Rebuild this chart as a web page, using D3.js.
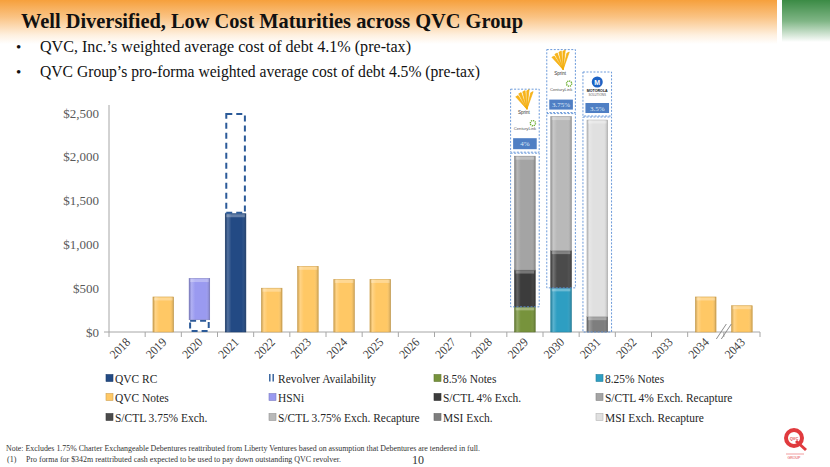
<!DOCTYPE html>
<html><head><meta charset="utf-8">
<script src="https://cdn.jsdelivr.net/npm/d3@7"></script>
<style>
body{margin:0;background:#fff;}
svg{display:block;font-family:"Liberation Serif","Times New Roman",serif;}
</style>
</head><body>
<svg id="c" width="830" height="467"></svg>
<script>
// ---------- DATA ----------
const categories = ["2018","2019","2020","2021","2022","2023","2024","2025","2026","2027","2028","2029","2030","2031","2032","2033","2034","2043"];
const qvcRC      = [0,0,0,1350,0,0,0,0,0,0,0,0,0,0,0,0,0,0];
const revolver   = [0,0,140,1150,0,0,0,0,0,0,0,0,0,0,0,0,0,0];
const notes85    = [0,0,0,0,0,0,0,0,0,0,0,287,0,0,0,0,0,0];
const notes825   = [0,0,0,0,0,0,0,0,0,0,0,0,504,0,0,0,0,0];
const qvcNotes   = [0,400,0,0,500,750,600,600,0,0,0,0,0,0,0,0,400,300];
const hsni       = [0,0,470,0,0,0,0,0,0,0,0,0,0,0,0,0,0,0];
const sctl4      = [0,0,0,0,0,0,0,0,0,0,0,420,0,0,0,0,0,0];
const sctl4R     = [0,0,0,0,0,0,0,0,0,0,0,1300,0,0,0,0,0,0];
const sctl375    = [0,0,0,0,0,0,0,0,0,0,0,0,425,0,0,0,0,0];
const sctl375R   = [0,0,0,0,0,0,0,0,0,0,0,0,1530,0,0,0,0,0];
const msiExch    = [0,0,0,0,0,0,0,0,0,0,0,0,0,175,0,0,0,0];
const msiR       = [0,0,0,0,0,0,0,0,0,0,0,0,0,2245,0,0,0,0];
const seriesNames = ["QVC RC","Revolver Availability","8.5% Notes","8.25% Notes","QVC Notes","HSNi","S/CTL 4% Exch.","S/CTL 4% Exch. Recapture","S/CTL 3.75% Exch.","S/CTL 3.75% Exch. Recapture","MSI Exch.","MSI Exch. Recapture"];
const seriesValues = [qvcRC,revolver,notes85,notes825,qvcNotes,hsni,sctl4,sctl4R,sctl375,sctl375R,msiExch,msiR];
const seriesColors = ["#234A84","none","#77933C","#2E9EC2","#FFC865","#9A9AF0","#3C3C3C","#A4A4A4","#4B4B4B","#B9B9B9","#7E7E7E","#E0E0E0"];
const yTicks = [0,500,1000,1500,2000,2500];
const exchCats = ["2029","2030","2031"];
const exchRates = ["4%","3.75%","3.5%"];
const exchIssuer = ["sprint","sprint","msi"];
const title = "Well Diversified, Low Cost Maturities across QVC Group";
const bullets = ["QVC, Inc.\u2019s weighted average cost of debt 4.1% (pre-tax)","QVC Group\u2019s pro-forma weighted average cost of debt 4.5% (pre-tax)"];
const notes = ["Note: Excludes 1.75% Charter Exchangeable Debentures reattributed from Liberty Ventures based on assumption that Debentures are tendered in full.","Pro forma for $342m reattributed cash expected to be used to pay down outstanding QVC revolver."];

// ---------- SETUP ----------
const svg = d3.select("#c");
const defs = svg.append("defs");
function condense(sel, f){ const w = sel.node().getComputedTextLength(); sel.attr("textLength", w*f).attr("lengthAdjust","spacingAndGlyphs"); return sel; }

// header gradients
const og = defs.append("linearGradient").attr("id","hdrO").attr("x1",0).attr("y1",0).attr("x2",0).attr("y2",1);
og.append("stop").attr("offset","0").attr("stop-color","#F6A03C");
og.append("stop").attr("offset","0.4").attr("stop-color","#FAC486");
og.append("stop").attr("offset","0.8").attr("stop-color","#FEF0E0");
og.append("stop").attr("offset","1").attr("stop-color","#FFFFFF");
const gg = defs.append("linearGradient").attr("id","hdrG").attr("x1",0).attr("y1",0).attr("x2",0).attr("y2",1);
gg.append("stop").attr("offset","0").attr("stop-color","#3B8B45");
gg.append("stop").attr("offset","0.5").attr("stop-color","#7FB585");
gg.append("stop").attr("offset","1").attr("stop-color","#FFFFFF");
svg.append("rect").attr("x",0).attr("y",0).attr("width",777).attr("height",44).attr("fill","url(#hdrO)");
svg.append("rect").attr("x",782).attr("y",0).attr("width",48).attr("height",42).attr("fill","url(#hdrG)");

// bevel shading overlay
const sh = defs.append("linearGradient").attr("id","shade").attr("x1",0).attr("y1",0).attr("x2",1).attr("y2",0);
sh.append("stop").attr("offset","0").attr("stop-color","#000").attr("stop-opacity",0.18);
sh.append("stop").attr("offset","0.12").attr("stop-color","#fff").attr("stop-opacity",0.22);
sh.append("stop").attr("offset","0.3").attr("stop-color","#fff").attr("stop-opacity",0);
sh.append("stop").attr("offset","0.8").attr("stop-color","#fff").attr("stop-opacity",0);
sh.append("stop").attr("offset","1").attr("stop-color","#000").attr("stop-opacity",0.2);

// title & bullets
svg.append("text").attr("x",21).attr("y",28).attr("font-size",21).attr("font-weight","bold").attr("fill","#111")
  .attr("textLength",502).attr("lengthAdjust","spacingAndGlyphs").text(title);
const bl = [[52,371],[77,440]];
bullets.forEach((b,i)=>{
  svg.append("text").attr("x",16).attr("y",bl[i][0]).attr("font-size",15).attr("fill","#111").text("\u2022");
  svg.append("text").attr("x",40).attr("y",bl[i][0]).attr("font-size",16.5).attr("fill","#111")
    .attr("textLength",bl[i][1]).attr("lengthAdjust","spacingAndGlyphs").text(b);
});

// ---------- SCALES ----------
const x = d3.scaleBand().domain(categories).range([109,760]).paddingInner(0.43).paddingOuter(0.215);
const y = d3.scaleLinear().domain([0,2500]).range([332,113]);
const step = x.step();
const bw = x.bandwidth();

// axes
const g = svg.append("g");
g.append("line").attr("x1",109).attr("x2",109).attr("y1",y(0)).attr("y2",105).attr("stroke","#A6A6A6");
g.append("line").attr("x1",104).attr("x2",760).attr("y1",y(0)).attr("y2",y(0)).attr("stroke","#A6A6A6");
d3.range(categories.length+1).forEach(i=>{
  const xx = 109 + i*step;
  g.append("line").attr("x1",xx).attr("x2",xx).attr("y1",y(0)).attr("y2",y(0)+5).attr("stroke","#A6A6A6");
});
yTicks.forEach(t=>{
  g.append("text").attr("x",99).attr("y",y(t)+4.5).attr("text-anchor","end").attr("font-size",13).attr("fill","#595959")
   .text("$"+d3.format(",")(t));
});
categories.forEach(c=>{
  const cx = x(c)+bw/2+4, cy = y(0)+11;
  condense(g.append("text").attr("transform",`translate(${cx},${cy}) rotate(-45)`).attr("text-anchor","end")
   .attr("font-size",12.5).attr("fill","#404040").text(c), 0.92);
});

// ---------- BARS ----------
const rows = categories.map((c,i)=>{ const r={cat:c}; seriesNames.forEach((s,j)=>r[s]=seriesValues[j][i]); return r; });
const stacked = d3.stack().keys(seriesNames)(rows);
stacked.forEach((layer,j)=>{
  layer.forEach(d=>{
    if (d[1]-d[0] <= 0) return;
    const xx = x(d.data.cat), y1 = y(d[1]), h = y(d[0]) - y(d[1]);
    if (seriesNames[j]==="Revolver Availability") {
      g.append("rect").attr("x",xx+1).attr("y",y1+1).attr("width",bw-2).attr("height",h-2)
       .attr("fill","none").attr("stroke","#2B5A98").attr("stroke-width",2).attr("stroke-dasharray","6,4");
      return;
    }
    const col = seriesColors[j];
    g.append("rect").attr("x",xx).attr("y",y1).attr("width",bw).attr("height",h)
     .attr("fill",col).attr("stroke",d3.color(col).darker(0.5)).attr("stroke-width",0.6);
    g.append("rect").attr("x",xx).attr("y",y1).attr("width",bw).attr("height",h).attr("fill","url(#shade)");
    g.append("rect").attr("x",xx+1).attr("y",y1+0.5).attr("width",bw-2).attr("height",Math.min(3,h-1))
     .attr("fill","#fff").attr("opacity",0.3);
  });
});

// break mark between 2034 and 2043
const bx = 109 + 17*step;
[-2.5,2.5].forEach(o=>{
  g.append("line").attr("x1",bx+o-5).attr("y1",y(0)+7).attr("x2",bx+o+5).attr("y2",y(0)-8)
   .attr("stroke","#808080").attr("stroke-width",0.9);
});

// ---------- EXCHANGEABLE ANNOTATIONS ----------
const logoH = {sprint:63, msi:44};
exchCats.forEach((c,k)=>{
  const i = categories.indexOf(c);
  let lo = null, hi = null;
  stacked.forEach((layer,j)=>{
    if (j<6) return;
    const d = layer[i];
    if (d[1]-d[0] > 0) { lo = lo===null? d[0] : Math.min(lo,d[0]); hi = hi===null? d[1] : Math.max(hi,d[1]); }
  });
  const bx0 = x(c)-4, bwid = bw+8;
  const top = y(hi)-3, bot = y(lo);
  g.append("rect").attr("x",bx0).attr("y",top).attr("width",bwid).attr("height",bot-top)
   .attr("fill","none").attr("stroke","#5B8FD6").attr("stroke-width",0.9).attr("stroke-dasharray","2,1.5");
  const lh = logoH[exchIssuer[k]];
  const lt = top-1-lh;
  g.append("rect").attr("x",bx0).attr("y",lt).attr("width",bwid).attr("height",lh)
   .attr("fill","#fff").attr("stroke","#5B8FD6").attr("stroke-width",0.9).attr("stroke-dasharray","2,1.5");
  const cx = bx0 + bwid/2;
  const lbH = k===0?11:10;
  g.append("rect").attr("x",bx0+2.5).attr("y",top-1-3-lbH).attr("width",bwid-5).attr("height",lbH).attr("fill","#4F7FC4");
  g.append("text").attr("x",cx).attr("y",top-1-3-lbH/2+2.5).attr("text-anchor","middle").attr("font-size",7)
   .attr("fill","#DDE8F8").text(exchRates[k]);
  if (exchIssuer[k]==="sprint") {
    const ox = cx+2, oy = lt+20;
    const pts = [[-10,-13],[-7,-16],[-3,-18],[1,-19],[5,-17]];
    pts.forEach((p,n)=>{
      g.append("path").attr("d",`M${ox},${oy} L${ox+p[0]-1.2},${oy+p[1]+0.6} L${ox+p[0]+1.2},${oy+p[1]-0.6} Z`)
       .attr("fill","#F9B51C").attr("stroke","#F2A900").attr("stroke-width",0.6);
    });
    g.append("text").attr("x",cx-1).attr("y",lt+25).attr("text-anchor","middle").attr("font-size",4.5)
     .attr("font-family","Liberation Sans, Arial, sans-serif").attr("fill","#333").text("Sprint");
    g.append("circle").attr("cx",cx+8).attr("cy",lt+34).attr("r",2.6).attr("fill","none")
     .attr("stroke","#6AAE2E").attr("stroke-width",1.4).attr("stroke-dasharray","1.2,0.8");
    g.append("text").attr("x",cx).attr("y",lt+41).attr("text-anchor","middle").attr("font-size",4.2)
     .attr("font-family","Liberation Sans, Arial, sans-serif").attr("fill","#555").text("CenturyLink");
  } else {
    g.append("circle").attr("cx",cx).attr("cy",lt+10).attr("r",5.5).attr("fill","#1E63C4");
    g.append("text").attr("x",cx).attr("y",lt+12.6).attr("text-anchor","middle").attr("font-size",7).attr("font-weight","bold")
     .attr("font-family","Liberation Sans, Arial, sans-serif").attr("fill","#fff").text("M");
    g.append("text").attr("x",cx).attr("y",lt+20).attr("text-anchor","middle").attr("font-size",3.6).attr("font-weight","bold")
     .attr("font-family","Liberation Sans, Arial, sans-serif").attr("fill","#111").text("MOTOROLA");
    g.append("text").attr("x",cx).attr("y",lt+24).attr("text-anchor","middle").attr("font-size",3)
     .attr("font-family","Liberation Sans, Arial, sans-serif").attr("fill","#555").text("SOLUTIONS");
  }
});

// ---------- LEGEND ----------
const legX = [106,269,434,596];
const legY = [378,397,417];
seriesNames.forEach((s,j)=>{
  const lx = legX[j%4], ly = legY[Math.floor(j/4)];
  if (s==="Revolver Availability") {
    [0.8,4.2].forEach(o=>g.append("line").attr("x1",lx+o).attr("x2",lx+o).attr("y1",ly-4).attr("y2",ly+3.5)
      .attr("stroke","#2B5A98").attr("stroke-width",1.4));
  } else {
    g.append("rect").attr("x",lx).attr("y",ly-3.5).attr("width",7).attr("height",7)
     .attr("fill",seriesColors[j]).attr("stroke",d3.color(seriesColors[j]).darker(0.6)).attr("stroke-width",0.6);
  }
  condense(g.append("text").attr("x",lx+9).attr("y",ly+4.5).attr("font-size",13).attr("fill","#262626").text(s), 0.88);
});

// ---------- FOOTER ----------
svg.append("text").attr("x",6).attr("y",451).attr("font-size",8).attr("fill","#333")
  .attr("textLength",474).attr("lengthAdjust","spacingAndGlyphs").text(notes[0]);
svg.append("text").attr("x",7).attr("y",462).attr("font-size",8).attr("fill","#333").text("(1)");
svg.append("text").attr("x",26).attr("y",462).attr("font-size",8).attr("fill","#333")
  .attr("textLength",315).attr("lengthAdjust","spacingAndGlyphs").text(notes[1]);
svg.append("text").attr("x",418).attr("y",464).attr("font-size",12).attr("text-anchor","middle").attr("fill","#333").text("10");

// QVC Group logo
const lg = svg.append("g").attr("transform","translate(794,438)");
lg.append("circle").attr("r",8).attr("fill","none").attr("stroke","#E03A3E").attr("stroke-width",4);
lg.append("path").attr("d","M2,3 L12,12").attr("stroke","#E03A3E").attr("stroke-width",3);
lg.append("text").attr("y",2).attr("text-anchor","middle").attr("font-size",4).attr("font-weight","bold")
  .attr("font-family","Liberation Sans, Arial, sans-serif").attr("fill","#E03A3E").text("QVC");
lg.append("line").attr("x1",-8).attr("x2",10).attr("y1",16).attr("y2",16).attr("stroke","#E03A3E").attr("stroke-width",0.5);
lg.append("text").attr("y",21).attr("text-anchor","middle").attr("font-size",3.5)
  .attr("font-family","Liberation Sans, Arial, sans-serif").attr("fill","#E03A3E").text("GROUP");
</script>
</body></html>
